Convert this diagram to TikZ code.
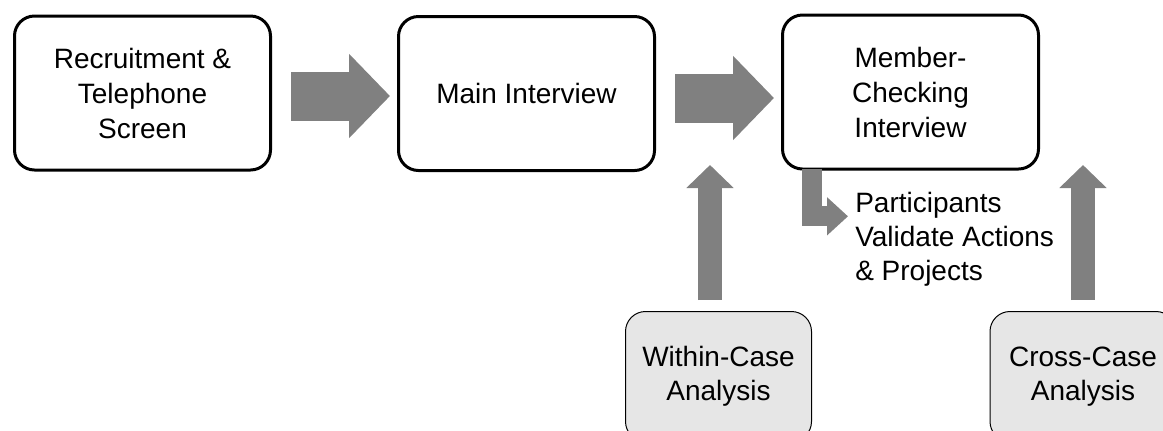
\documentclass[tikz,border=0pt]{standalone}
\usepackage{fontspec}
\setmainfont{Liberation Sans}
\usetikzlibrary{arrows.meta,calc}
\definecolor{arrgray}{HTML}{808080}
\definecolor{boxgray}{HTML}{E6E6E6}
\begin{document}
\begin{tikzpicture}[x=0.75pt,y=-0.75pt,
  txt/.style={font=\fontsize{21pt}{25.5pt}\selectfont, align=center, inner sep=0pt},
  stage/.style={txt, font=\fontsize{21pt}{26.25pt}\selectfont, draw=black, line width=2.25pt, rounded corners=15pt,
    minimum width=192pt, minimum height=115.5pt, fill=white},
  analysis/.style={txt, draw=black, line width=0.75pt, fill=boxgray, rounded corners=15pt,
    minimum width=139.5pt, minimum height=97.5pt},
  bigarrow/.style={color=arrgray, line width=36.75pt,
    -{Triangle[width=61.5pt,length=30.75pt]}, shorten <=14.25pt, shorten >=5.25pt},
  uparrow/.style={color=arrgray, line width=18pt,
    -{Triangle[width=34.5pt,length=17.25pt]}},
  bentarrow/.style={color=arrgray, line width=15pt, line join=miter,
    -{Triangle[width=27.75pt,length=15.75pt]}}]
\useasboundingbox (0,0) rectangle (1163,430);
\clip (0,0) rectangle (1163,430);
\node[stage] (b1) at (142.5,93) {Recruitment \&\\Telephone\\Screen};
\node[stage] (b2) at (526.5,93.5) {Main Interview};
\node[stage] (b3) at (910.5,92) {Member-\\Checking\\Interview};
\node[analysis] (w) at (718.5,376.5) {Within-Case\\Analysis};
\node[analysis] (c) at (1083,376.5) {Cross-Case\\Analysis};
\node[txt, align=left, anchor=north west] (p) at (855,192) {Participants\\Validate Actions\\\& Projects};
\draw[bigarrow] ($(b1.east)+(0,3)$) -- ($(b2.west)+(0,2.5)$);
\draw[bigarrow] ($(b2.east)+(0,4.5)$) -- ($(b3.west)+(0,6)$);
\draw[uparrow] ($(w.north)+(-8.5,-11)$) -- ++(0,-135);
\draw[uparrow] ($(c.north)+(0,-11)$) -- ++(0,-135);
\coordinate (bs) at ($(b3.south west)+(31,-2)$);
\coordinate (bt) at ($(p.west)+(-7,-23)$);
\draw[bentarrow] (bs) |- (bt);
\end{tikzpicture}
\end{document}
